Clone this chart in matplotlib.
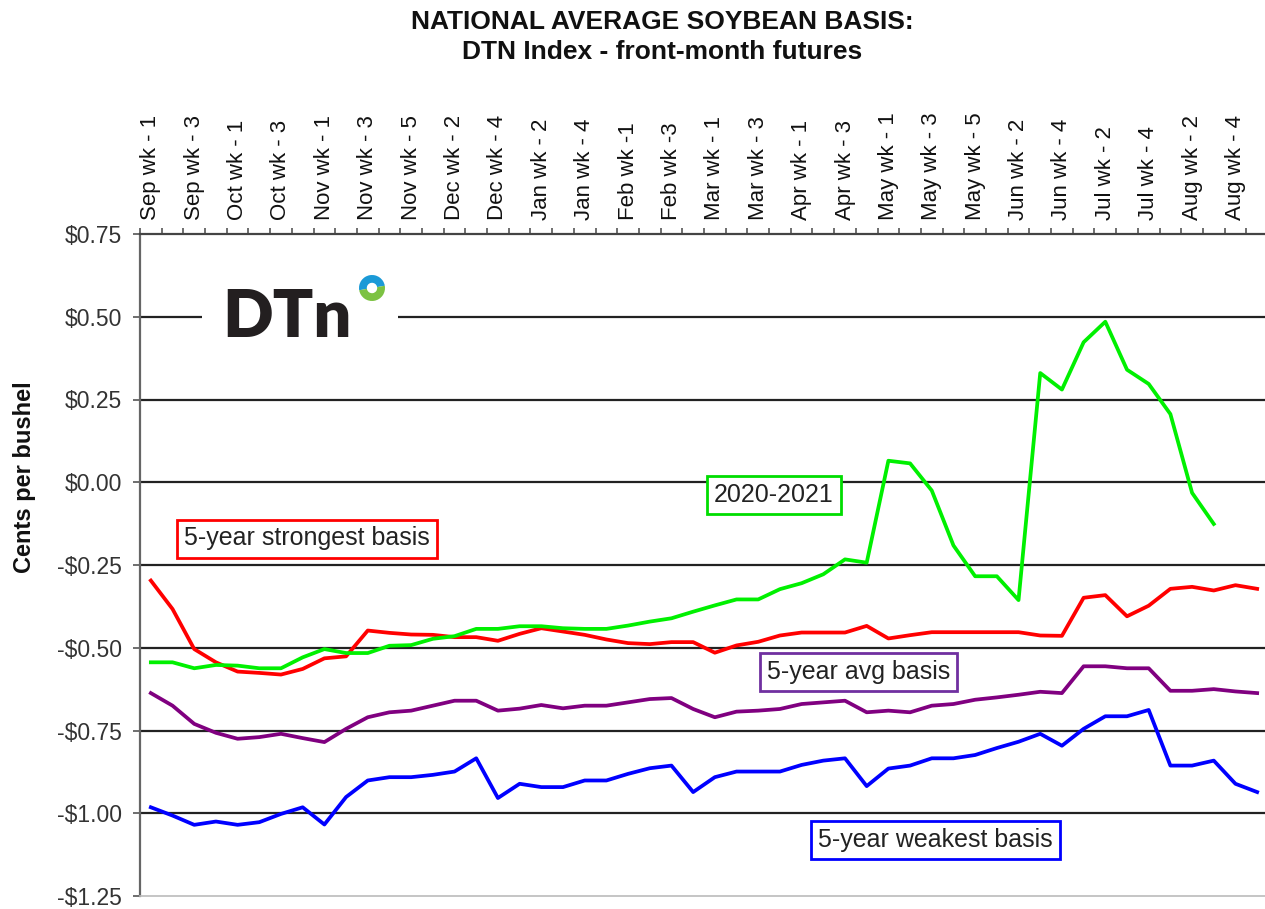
import matplotlib
matplotlib.use("Agg")
import matplotlib.pyplot as plt
from matplotlib.patches import Rectangle, Wedge
import numpy as np

plt.rcParams['font.family'] = ['Liberation Sans', 'DejaVu Sans']

# ---------------- data ----------------
months = ["Sep", "Oct", "Nov", "Dec", "Jan", "Feb", "Mar", "Apr", "May", "Jun", "Jul", "Aug"]
weeks_per_month = [4, 4, 5, 4, 5, 4, 4, 4, 5, 4, 4, 5]
categories = []
for m, n in zip(months, weeks_per_month):
    for w in range(1, n + 1):
        if m == "Feb":
            categories.append(f"{m} wk -{w}")
        else:
            categories.append(f"{m} wk - {w}")

strongest = [-0.297, -0.383, -0.504, -0.544, -0.572, -0.576, -0.581, -0.564, -0.532, -0.526,
             -0.448, -0.455, -0.460, -0.461, -0.468, -0.468, -0.479, -0.458, -0.441, -0.451,
             -0.461, -0.475, -0.486, -0.489, -0.483, -0.483, -0.515, -0.493, -0.482, -0.463,
             -0.454, -0.454, -0.454, -0.434, -0.472, -0.462, -0.453, -0.453, -0.453, -0.453,
             -0.453, -0.463, -0.464, -0.349, -0.341, -0.405, -0.373, -0.322, -0.316, -0.327,
             -0.311, -0.322]

season_2020_21 = [-0.544, -0.544, -0.562, -0.552, -0.554, -0.562, -0.562, -0.529, -0.504, -0.516,
                  -0.516, -0.494, -0.492, -0.473, -0.465, -0.443, -0.443, -0.435, -0.435, -0.441,
                  -0.443, -0.443, -0.433, -0.421, -0.411, -0.391, -0.372, -0.354, -0.354, -0.323,
                  -0.305, -0.278, -0.233, -0.243, 0.065, 0.057, -0.025, -0.191, -0.284, -0.284,
                  -0.356, 0.330, 0.280, 0.423, 0.485, 0.340, 0.297, 0.206, -0.032, -0.126]

average = [-0.637, -0.675, -0.730, -0.757, -0.775, -0.770, -0.760, -0.773, -0.785, -0.745,
           -0.710, -0.695, -0.690, -0.675, -0.660, -0.660, -0.690, -0.684, -0.673, -0.683,
           -0.675, -0.675, -0.665, -0.655, -0.652, -0.685, -0.710, -0.693, -0.690, -0.685,
           -0.670, -0.665, -0.660, -0.695, -0.690, -0.695, -0.675, -0.670, -0.657, -0.650,
           -0.642, -0.633, -0.637, -0.556, -0.556, -0.562, -0.562, -0.630, -0.630, -0.625,
           -0.632, -0.637]

weakest = [-0.982, -1.007, -1.035, -1.025, -1.035, -1.027, -1.002, -0.982, -1.034, -0.951,
           -0.901, -0.891, -0.891, -0.884, -0.874, -0.834, -0.954, -0.911, -0.921, -0.921,
           -0.901, -0.901, -0.881, -0.864, -0.856, -0.936, -0.891, -0.874, -0.874, -0.874,
           -0.854, -0.841, -0.834, -0.918, -0.865, -0.856, -0.834, -0.834, -0.824, -0.803,
           -0.784, -0.760, -0.796, -0.745, -0.707, -0.707, -0.688, -0.856, -0.856, -0.841,
           -0.911, -0.936]

y_ticks = [-1.25, -1.0, -0.75, -0.5, -0.25, 0.0, 0.25, 0.5, 0.75]
y_tick_labels = ["-$1.25", "-$1.00", "-$0.75", "-$0.50", "-$0.25", "$0.00", "$0.25", "$0.50", "$0.75"]

series_labels = ["5-year strongest basis", "2020-2021", "5-year avg basis", "5-year weakest basis"]

# ---------------- figure ----------------
W, H = 1265, 909
fig = plt.figure(figsize=(W / 100, H / 100), dpi=100)
fig.patch.set_facecolor("white")

ax_left, ax_right, ax_top, ax_bot = 140, 1268, 234, 896
ax = fig.add_axes([ax_left / W, 1 - ax_bot / H, (ax_right - ax_left) / W, (ax_bot - ax_top) / H])

n = len(categories)
x = np.arange(n)

ax.plot(x, strongest, color="#ff0000", lw=2.7, zorder=3)
ax.plot(np.arange(len(season_2020_21)), season_2020_21, color="#00f000", lw=2.7, zorder=3)
ax.plot(x, average, color="#800080", lw=2.7, zorder=3)
ax.plot(x, weakest, color="#0000ff", lw=2.7, zorder=3)

ax.set_xlim(-0.5, n - 0.5)
ax.set_ylim(-1.25, 0.75)

# horizontal gridlines
for yv in y_ticks[1:-1]:
    ax.axhline(yv, color="#222222", lw=1.6, zorder=1)

# y axis
ax.set_yticks(y_ticks)
ax.set_yticklabels(y_tick_labels, fontsize=16.5, color="#333333")
ax.tick_params(axis="y", direction="out", length=5, width=1.2, color="#555555", pad=8)

# x axis on top
ax.xaxis.tick_top()
ax.set_xticks(np.arange(-0.5, n + 0.5, 1.0))
ax.set_xticklabels([])
ax.set_xticks(x[::2], minor=True)
ax.set_xticklabels(categories[::2], minor=True, rotation=90, fontsize=16, color="#111111")
ax.tick_params(axis="x", which="major", direction="out", length=4, width=1.2, color="#555555", top=True, bottom=False)
ax.tick_params(axis="x", which="minor", length=0, pad=10, top=True, bottom=False)

ax.spines["right"].set_visible(False)
ax.spines["top"].set_color("#444444")
ax.spines["top"].set_linewidth(1.6)
ax.spines["left"].set_color("#666666")
ax.spines["left"].set_linewidth(1.6)
ax.spines["bottom"].set_color("#bbbbbb")
ax.spines["bottom"].set_linewidth(1.2)

# series label boxes
def px2ax(px, py):
    return ((px - ax_left) / (ax_right - ax_left), 1 - (py - ax_top) / (ax_bot - ax_top))

box_specs = [
    (series_labels[0], (307, 538.5), "#ff0000"),
    (series_labels[1], (774, 494.5), "#00dd00"),
    (series_labels[2], (858.5, 671.5), "#7030a0"),
    (series_labels[3], (935.5, 839.5), "#0000ff"),
]
for text, (px, py), ec in box_specs:
    ax.text(*px2ax(px, py), text, transform=ax.transAxes, ha="center", va="center",
            fontsize=18, color="#222222", zorder=5,
            bbox=dict(boxstyle="square,pad=0.28", fc="white", ec=ec, lw=2))

# DTN logo (white panel interrupting the gridline)
x0, y0 = px2ax(202, 345)
x1, y1 = px2ax(398, 272)
ax.add_patch(Rectangle((x0, y0), x1 - x0, y1 - y0, transform=ax.transAxes,
                       fc="white", ec="none", zorder=2))
fig.text(222 / W, 1 - 337 / H, "DTn", fontsize=48, fontweight="heavy",
         family=["Lato", "DejaVu Sans"], color="#231f20", ha="left", va="baseline")
cax = fig.add_axes([359 / W, 1 - 301 / H, 26 / W, 26 / H])
cax.set_xlim(0, 1)
cax.set_ylim(0, 1)
cax.axis("off")
cax.add_patch(Wedge((0.5, 0.5), 0.5, 10, 190, width=0.3, fc="#1b9ad7", ec="none"))
cax.add_patch(Wedge((0.5, 0.5), 0.5, 190, 370, width=0.3, fc="#7cc242", ec="none"))

# titles
fig.text(662 / W, 1 - 10 / H, "NATIONAL AVERAGE SOYBEAN BASIS:\nDTN Index - front-month futures",
         ha="center", va="top", fontsize=19, fontweight="bold", color="#111111", linespacing=1.3)
fig.text(25 / W, 1 - 477 / H, "Cents per bushel", rotation=90, ha="center", va="center",
         fontsize=17, fontweight="bold", color="#111111")

fig.savefig("out.png", dpi=100, facecolor="white")
